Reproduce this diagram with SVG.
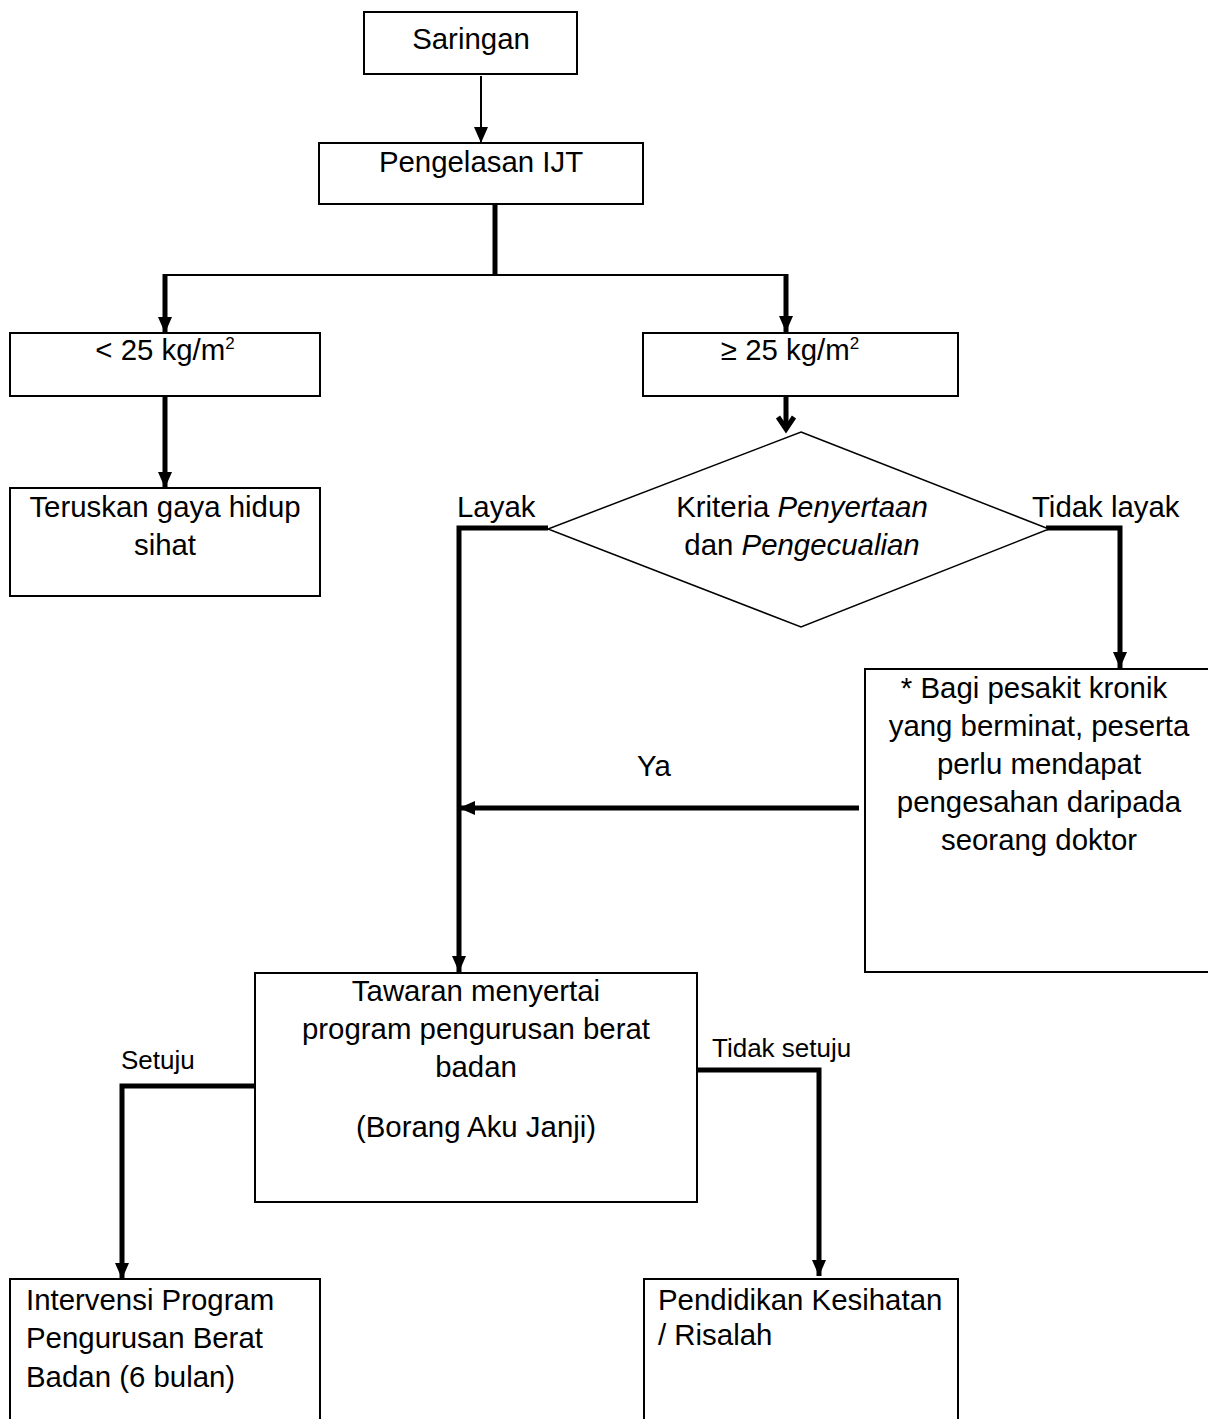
<svg xmlns="http://www.w3.org/2000/svg" width="1208" height="1419" viewBox="0 0 1208 1419">
<style>
.box{fill:#fff;stroke:#000;stroke-width:2}
.t{font-family:"Liberation Sans",Arial,sans-serif;font-size:29.4px;fill:#000}
.s{font-family:"Liberation Sans",Arial,sans-serif;font-size:26px;fill:#000}
.c{text-anchor:middle}
.thin{fill:none;stroke:#000;stroke-width:2}
.thick{fill:none;stroke:#000;stroke-width:5}
</style>
<defs>
<marker id="ah" markerUnits="userSpaceOnUse" markerWidth="16" markerHeight="16" viewBox="0 0 16 16" refX="16" refY="8" orient="auto">
<path d="M0,1 L16,8 L0,15 Z" fill="#000"/>
</marker>
<marker id="ahs" markerUnits="userSpaceOnUse" markerWidth="16" markerHeight="16" viewBox="0 0 16 16" refX="16" refY="8" orient="auto">
<path d="M0,1 L16,8 L0,15 Z" fill="#000"/>
</marker>
</defs>
<g id="connectors">
<path class="thin" d="M481,76 V143" marker-end="url(#ahs)"/>
<path class="thick" d="M495,204 V274"/>
<path class="thin" d="M165,275 H786"/>
<path class="thick" d="M165,274 V333" marker-end="url(#ah)"/>
<path class="thick" d="M786,274 V332" marker-end="url(#ah)"/>
<path class="thick" d="M165,396 V488" marker-end="url(#ah)"/>
<path class="thick" d="M786,396 V428"/>
<path class="thick" d="M778,417 L786,429 L794,417"/>
<path class="thick" d="M548,528 H459 V972" marker-end="url(#ah)"/>
<path class="thick" d="M1046,528 H1120 V668" marker-end="url(#ah)"/>
<path class="thick" d="M859,808 H459" marker-end="url(#ah)"/>
<path class="thick" d="M255,1086 H122 V1279" marker-end="url(#ah)"/>
<path class="thick" d="M695,1070 H819 V1276" marker-end="url(#ah)"/>
</g>
<g id="saringan">
<rect class="box" x="364" y="12" width="213" height="62"/>
<text class="t c" x="471" y="49">Saringan</text>
</g>
<g id="pengelasan">
<rect class="box" x="319" y="143" width="324" height="61"/>
<text class="t c" x="481" y="172">Pengelasan IJT</text>
</g>
<g id="lt25">
<rect class="box" x="10" y="333" width="310" height="63"/>
<text class="t c" x="165" y="360">&lt; 25 kg/m<tspan font-size="17" dy="-11">2</tspan></text>
</g>
<g id="ge25">
<rect class="box" x="643" y="333" width="315" height="63"/>
<text class="t c" x="790" y="360">≥ 25 kg/m<tspan font-size="17" dy="-11">2</tspan></text>
</g>
<g id="teruskan">
<rect class="box" x="10" y="488" width="310" height="108"/>
<text class="t c" x="165" y="517">Teruskan gaya hidup</text>
<text class="t c" x="165" y="555">sihat</text>
</g>
<g id="kriteria">
<polygon points="801,432 1049,529 801,627 548,529" fill="#fff" stroke="#000" stroke-width="1.5"/>
<text class="t c" x="802" y="517">Kriteria <tspan font-style="italic">Penyertaan</tspan></text>
<text class="t c" x="802" y="555">dan <tspan font-style="italic">Pengecualian</tspan></text>
</g>
<g id="labels">
<text class="t" x="457" y="517">Layak</text>
<text class="t" x="1032" y="517">Tidak layak</text>
<text class="t c" x="654" y="776">Ya</text>
<text class="s" x="121" y="1069">Setuju</text>
<text class="s" x="712" y="1057">Tidak setuju</text>
</g>
<g id="kronik">
<rect class="box" x="865" y="669" width="346" height="303"/>
<text class="t c" x="1034" y="698">* Bagi pesakit kronik</text>
<text class="t c" x="1039" y="736">yang berminat, peserta</text>
<text class="t c" x="1039" y="774">perlu mendapat</text>
<text class="t c" x="1039" y="812">pengesahan daripada</text>
<text class="t c" x="1039" y="850">seorang doktor</text>
</g>
<g id="tawaran">
<rect class="box" x="255" y="973" width="442" height="229"/>
<text class="t c" x="476" y="1001">Tawaran menyertai</text>
<text class="t c" x="476" y="1039">program pengurusan berat</text>
<text class="t c" x="476" y="1077">badan</text>
<text class="t c" x="476" y="1137">(Borang Aku Janji)</text>
</g>
<g id="intervensi">
<rect class="box" x="10" y="1279" width="310" height="150"/>
<text class="t" x="26" y="1310">Intervensi Program</text>
<text class="t" x="26" y="1348">Pengurusan Berat</text>
<text class="t" x="26" y="1387">Badan (6 bulan)</text>
</g>
<g id="pendidikan">
<rect class="box" x="644" y="1279" width="314" height="150"/>
<text class="t" x="658" y="1310">Pendidikan Kesihatan</text>
<text class="t" x="658" y="1345">/ Risalah</text>
</g>
</svg>
